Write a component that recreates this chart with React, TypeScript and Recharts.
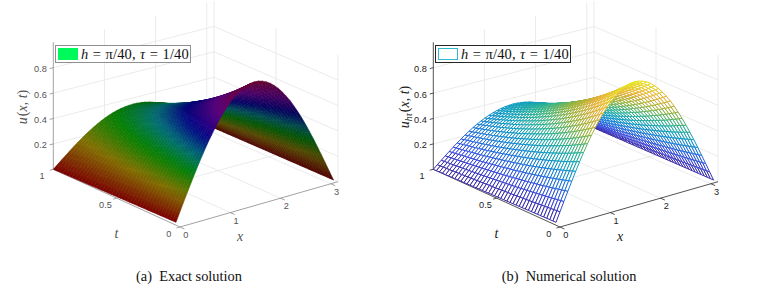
import { Scatter, ScatterChart, XAxis, YAxis } from "recharts";

const xNodes = [
  0, 0.079, 0.157, 0.236, 0.314, 0.393, 0.471, 0.55, 0.628, 0.707, 0.785, 0.864, 0.942, 1.021, 1.1, 1.178, 1.257,
  1.335, 1.414, 1.492, 1.571, 1.649, 1.728, 1.806, 1.885, 1.963, 2.042, 2.121, 2.199, 2.278, 2.356, 2.435, 2.513,
  2.592, 2.67, 2.749, 2.827, 2.906, 2.985, 3.063, 3.142,
];
const tNodes = [
  0, 0.025, 0.05, 0.075, 0.1, 0.125, 0.15, 0.175, 0.2, 0.225, 0.25, 0.275, 0.3, 0.325, 0.35, 0.375, 0.4, 0.425, 0.45,
  0.475, 0.5, 0.525, 0.55, 0.575, 0.6, 0.625, 0.65, 0.675, 0.7, 0.725, 0.75, 0.775, 0.8, 0.825, 0.85, 0.875, 0.9,
  0.925, 0.95, 0.975, 1,
];
// u along the front edge (t = 0)
const frontArch = [
  0, 0.074, 0.147, 0.219, 0.29, 0.36, 0.427, 0.491, 0.553, 0.61, 0.665, 0.715, 0.76, 0.801, 0.838, 0.868, 0.894, 0.914,
  0.928, 0.937, 0.94, 0.937, 0.928, 0.914, 0.894, 0.868, 0.838, 0.801, 0.76, 0.715, 0.665, 0.61, 0.553, 0.491, 0.427,
  0.36, 0.29, 0.219, 0.147, 0.074, 0,
];
// how far the arch has dropped at each t, relative to the front edge
const archDecay = [
  1, 0.975, 0.951, 0.928, 0.905, 0.882, 0.861, 0.839, 0.819, 0.799, 0.779, 0.76, 0.741, 0.723, 0.705, 0.687, 0.67,
  0.654, 0.638, 0.622, 0.607, 0.592, 0.577, 0.563, 0.549, 0.535, 0.522, 0.509, 0.497, 0.484, 0.472, 0.461, 0.449,
  0.438, 0.427, 0.417, 0.407, 0.397, 0.387, 0.377, 0.368,
];
const xTicks = [0, 1, 2, 3];
const tTicks = [0, 0.5, 1];
const uTicks = [0.2, 0.4, 0.6, 0.8];

const WIDTH = 380;
const HEIGHT = 290;
const X_MAX = 3.142;
const U_PX = 127;

// floor corners in the order [x0 t0, xMax t0, x0 t1, xMax t1]
const surfaceFloor = [
  [176, 222.3],
  [333.5, 180],
  [53.3, 169.3],
  [212, 127],
];
const boxFloor = [
  [180, 227],
  [338, 181.7],
  [53.3, 169.3],
  [214, 128],
];

const hotStops: [number, number[]][] = [
  [0, [122, 0, 0]],
  [0.18, [130, 112, 0]],
  [0.33, [0, 128, 0]],
  [0.45, [0, 112, 118]],
  [0.58, [0, 0, 132]],
  [0.74, [96, 0, 130]],
  [0.94, [118, 0, 48]],
];
const parulaStops: [number, number[]][] = [
  [0, [62, 38, 168]],
  [0.118, [60, 76, 240]],
  [0.235, [30, 125, 240]],
  [0.353, [10, 170, 210]],
  [0.47, [50, 195, 150]],
  [0.6, [165, 195, 60]],
  [0.74, [254, 190, 56]],
  [0.94, [249, 251, 20]],
];

function bilinear(values: number[], a: number, b: number) {
  const front = values[0] * (1 - a) + values[1] * a;
  const back = values[2] * (1 - a) + values[3] * a;
  return front * (1 - b) + back * b;
}

function surfacePoint(x: number, t: number, u: number) {
  const a = x / X_MAX;
  return {
    sx: bilinear(surfaceFloor.map((p) => p[0]), a, t),
    sy: bilinear(surfaceFloor.map((p) => p[1]), a, t) - u * U_PX,
  };
}

function boxPoint(x: number, t: number, u: number) {
  const a = x / X_MAX;
  return {
    sx: bilinear(boxFloor.map((p) => p[0]), a, t),
    sy: bilinear(boxFloor.map((p) => p[1]), a, t) - u * U_PX,
  };
}

function colorAt(stops: [number, number[]][], u: number, shade: number) {
  let k = 0;
  while (k < stops.length - 2 && u > stops[k + 1][0]) k++;
  const [u0, c0] = stops[k];
  const [u1, c1] = stops[k + 1];
  const a = Math.min(1, Math.max(0, (u - u0) / (u1 - u0)));
  const rgb = c0.map((v, n) => Math.round((v + (c1[n] - v) * a) * shade));
  return `rgb(${rgb.join(",")})`;
}

type Cell = { id: number; sx: number; sy: number; deltas: number[][]; us: number[]; slope: number };

function buildCells() {
  const cells: Cell[] = [];
  for (let j = tNodes.length - 2; j >= 0; j--) {
    for (let i = xNodes.length - 2; i >= 0; i--) {
      const corners = [
        [i, j],
        [i + 1, j],
        [i + 1, j + 1],
        [i, j + 1],
      ];
      const us = corners.map(([a, b]) => frontArch[a] * archDecay[b]);
      const pts = corners.map(([a, b], n) => surfacePoint(xNodes[a], tNodes[b], us[n]));
      cells.push({
        id: cells.length,
        sx: pts[0].sx,
        sy: pts[0].sy,
        deltas: pts.map((p) => [p.sx - pts[0].sx, p.sy - pts[0].sy]),
        us,
        slope: (frontArch[i + 1] - frontArch[i]) / (xNodes[i + 1] - xNodes[i]),
      });
    }
  }
  return cells;
}

const cells = buildCells();

type Seg = { sx: number; sy: number; dx: number; dy: number };
type P = { sx: number; sy: number };

function seg(a: P, b: P): Seg {
  return { sx: a.sx, sy: a.sy, dx: b.sx - a.sx, dy: b.sy - a.sy };
}

const gridSegs: Seg[] = [
  ...uTicks.flatMap((u) => [
    seg(boxPoint(0, 1, u), boxPoint(X_MAX, 1, u)),
    seg(boxPoint(X_MAX, 1, u), boxPoint(X_MAX, 0, u)),
  ]),
  ...[1, 2, 3, X_MAX].map((x) => seg(boxPoint(x, 1, 0), boxPoint(x, 1, 1))),
  seg(boxPoint(X_MAX, 0.5, 0), boxPoint(X_MAX, 0.5, 1)),
  seg(boxPoint(X_MAX, 0, 0), boxPoint(X_MAX, 0, 1)),
  ...[1, 2, 3].map((x) => seg(boxPoint(x, 0, 0), boxPoint(x, 1, 0))),
  seg(boxPoint(0, 0.5, 0), boxPoint(X_MAX, 0.5, 0)),
  seg(boxPoint(0, 1, 0), boxPoint(X_MAX, 1, 0)),
  seg(boxPoint(X_MAX, 0, 0), boxPoint(X_MAX, 1, 0)),
];

const axisSegs: Seg[] = [
  seg(boxPoint(0, 1, 0), boxPoint(0, 0, 0)),
  seg(boxPoint(0, 0, 0), boxPoint(X_MAX, 0, 0)),
  seg(boxPoint(0, 1, 0), boxPoint(0, 1, 1)),
  ...uTicks.map((u) => seg(boxPoint(-0.07, 1, u), boxPoint(0, 1, u))),
  ...xTicks.map((x) => seg(boxPoint(x, -0.035, 0), boxPoint(x, 0, 0))),
  ...tTicks.map((t) => seg(boxPoint(-0.07, t, 0), boxPoint(0, t, 0))),
];

type Label = { sx: number; sy: number; text: string };

function offset(p: P, dy: number) {
  return { sx: p.sx, sy: p.sy + dy };
}

const tickLabels: Label[] = [
  ...uTicks.map((u) => ({ ...offset(boxPoint(-0.25, 1, u), 1.3), text: u.toFixed(1) })),
  ...xTicks.map((x) => ({ ...offset(boxPoint(x, -0.045, 0), 8.4), text: String(x) })),
  ...tTicks.map((t) => ({ ...offset(boxPoint(-0.22, t, 0), 7.3), text: String(t) })),
];

function SegShape(props: any) {
  const { cx, cy, payload, stroke, strokeWidth } = props;
  return (
    <line x1={cx} y1={cy} x2={cx + payload.dx} y2={cy + payload.dy} stroke={stroke} strokeWidth={strokeWidth} />
  );
}

function FilledCell(props: any) {
  const { cx, cy, payload } = props;
  const { deltas, us, slope, id } = payload;
  const shade = Math.min(1, Math.max(0.56, 0.86 + 0.24 * slope));
  const points = deltas.map(([dx, dy]: number[]) => `${cx + dx},${cy + dy}`).join(" ");

  // shade the cell along its own screen gradient of u, so the colour bands stay smooth
  const [e1x, e1y] = deltas[1];
  const [e2x, e2y] = deltas[3];
  const du1 = us[1] - us[0];
  const du2 = us[3] - us[0];
  const det = e1x * e2y - e1y * e2x;
  const uMin = Math.min(...us);
  const uMax = Math.max(...us);
  const uMid = (us[0] + us[1] + us[2] + us[3]) / 4;
  const gx = det ? (du1 * e2y - du2 * e1y) / det : 0;
  const gy = det ? (e1x * du2 - e2x * du1) / det : 0;
  const g2 = gx * gx + gy * gy;
  if (g2 < 1e-9) {
    const flat = colorAt(hotStops, uMid, shade);
    return <polygon points={points} fill={flat} stroke={flat} strokeWidth={0.7} />;
  }
  const mx = cx + (deltas[0][0] + deltas[1][0] + deltas[2][0] + deltas[3][0]) / 4;
  const my = cy + (deltas[0][1] + deltas[1][1] + deltas[2][1] + deltas[3][1]) / 4;
  const gradId = `cell-${id}`;
  return (
    <g>
      <defs>
        <linearGradient
          id={gradId}
          gradientUnits="userSpaceOnUse"
          x1={mx + (gx * (uMin - uMid)) / g2}
          y1={my + (gy * (uMin - uMid)) / g2}
          x2={mx + (gx * (uMax - uMid)) / g2}
          y2={my + (gy * (uMax - uMid)) / g2}
        >
          <stop offset="0" stopColor={colorAt(hotStops, uMin, shade)} />
          <stop offset="1" stopColor={colorAt(hotStops, uMax, shade)} />
        </linearGradient>
      </defs>
      <polygon points={points} fill={`url(#${gradId})`} stroke={`url(#${gradId})`} strokeWidth={0.6} />
    </g>
  );
}

function MeshCell(props: any) {
  const { cx, cy, payload } = props;
  const { deltas, us } = payload;
  const points = deltas.map(([dx, dy]: number[]) => `${cx + dx},${cy + dy}`).join(" ");
  const uMid = (us[0] + us[1] + us[2] + us[3]) / 4;
  return <polygon points={points} fill="#fff" stroke={colorAt(parulaStops, uMid, 0.92)} strokeWidth={1} />;
}

function TickText(props: any) {
  const { cx, cy, payload, fill } = props;
  return (
    <text x={cx} y={cy} textAnchor="middle" fontFamily="Liberation Sans" fontSize={9.2} fill={fill}>
      {payload.text}
    </text>
  );
}

function MathLabel(props: any) {
  const { cx, cy, payload, fill } = props;
  return (
    <text
      x={cx}
      y={cy}
      textAnchor="middle"
      fontFamily="Liberation Serif"
      fontSize={14}
      fill={fill}
      transform={payload.rotate ? `rotate(-90 ${cx} ${cy})` : undefined}
    >
      <tspan fontStyle="italic">{payload.text}</tspan>
      {payload.sub ? (
        <tspan fontStyle="italic" fontSize={9.5} dy={3}>
          {payload.sub}
        </tspan>
      ) : null}
      {payload.args ? (
        <tspan dy={payload.sub ? -3 : 0} dx={1}>
          (<tspan fontStyle="italic">x</tspan>, <tspan fontStyle="italic">t</tspan>)
        </tspan>
      ) : null}
    </text>
  );
}

function Caption(props: any) {
  const { cx, cy, payload } = props;
  return (
    <text
      x={cx}
      y={cy}
      textAnchor="middle"
      fontFamily="Liberation Serif"
      fontSize={14.4}
      fill="#111"
      style={{ whiteSpace: "pre" }}
    >
      {payload.text}
    </text>
  );
}

function Panel({
  left,
  ink,
  axisInk,
  cellShape,
  patch,
  legendBorder,
  ySub,
  yLabelX,
  caption,
}: {
  left: number;
  ink: string;
  axisInk: string;
  cellShape: (props: any) => any;
  patch: React.CSSProperties;
  legendBorder: string;
  ySub?: string;
  yLabelX: number;
  caption: string;
}) {
  return (
    <div style={{ position: "absolute", left, top: 0, width: WIDTH, height: HEIGHT }}>
      <ScatterChart width={WIDTH} height={HEIGHT} margin={{ top: 0, right: 0, bottom: 0, left: 0 }}>
        <XAxis type="number" dataKey="sx" domain={[0, WIDTH]} hide />
        <YAxis type="number" dataKey="sy" domain={[0, HEIGHT]} reversed hide />
        <Scatter data={gridSegs} isAnimationActive={false} stroke="#e6e6e6" strokeWidth={0.8} shape={SegShape} />
        <Scatter data={axisSegs} isAnimationActive={false} stroke={axisInk} strokeWidth={0.8} shape={SegShape} />
        <Scatter data={cells} isAnimationActive={false} shape={cellShape} />
        <Scatter data={tickLabels} isAnimationActive={false} fill={ink} shape={TickText} />
        <Scatter
          data={[
            { sx: 116.5, sy: 238, text: "t" },
            { sx: 240, sy: 241, text: "x" },
            { sx: yLabelX, sy: 107, text: "u", sub: ySub, args: true, rotate: true },
          ]}
          isAnimationActive={false}
          fill={ink}
          shape={MathLabel}
        />
        <Scatter data={[{ sx: 189, sy: 281, text: caption }]} isAnimationActive={false} shape={Caption} />
      </ScatterChart>
      <div
        style={{
          position: "absolute",
          left: 55,
          top: 45,
          width: 136,
          height: 18,
          boxSizing: "border-box",
          border: `1px solid ${legendBorder}`,
          background: "#fff",
          fontFamily: "Liberation Serif",
          fontSize: 14.5,
          lineHeight: "16px",
          color: "#111",
          whiteSpace: "nowrap",
          letterSpacing: 0.15,
          wordSpacing: 0.6,
        }}
      >
        <span
          style={{
            position: "absolute",
            left: 2,
            top: 2,
            width: 20,
            height: 12,
            boxSizing: "border-box",
            ...patch,
          }}
        />
        <span style={{ position: "absolute", left: 25, top: 0 }}>
          <i>h</i> = π/40, <i>τ</i> = 1/40
        </span>
      </div>
    </div>
  );
}

export default function App() {
  return (
    <div style={{ position: "absolute", left: 0, top: 0, width: 757, height: 290, background: "#fff", overflow: "hidden" }}>
      <Panel
        left={0}
        ink="#555"
        axisInk="#8a8a8a"
        cellShape={FilledCell}
        patch={{ background: "#00fa5c" }}
        legendBorder="#8f8f8f"
        yLabelX={27}
        caption="(a)  Exact solution"
      />
      <Panel
        left={380}
        ink="#222"
        axisInk="#262626"
        cellShape={MeshCell}
        patch={{ border: "1.5px solid #2fb8cf", background: "#fff" }}
        legendBorder="#262626"
        ySub="hτ"
        yLabelX={29}
        caption="(b)  Numerical solution"
      />
    </div>
  );
}
